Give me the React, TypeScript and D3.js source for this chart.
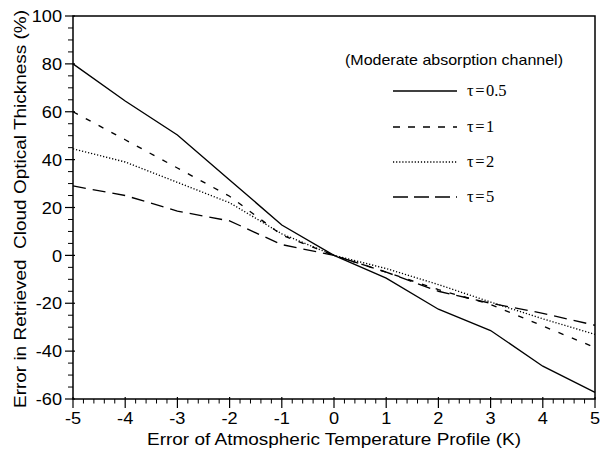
import React from "react";
import * as d3 from "d3";

const xValues = [-5, -4, -3, -2, -1, 0, 1, 2, 3, 4, 5];
const tau05 = [80, 64.5, 50.3, 31.5, 12.7, 0, -9.5, -22.5, -31.4, -46.3, -57.2];
const tau1 = [60, 48.3, 36.5, 24.7, 8.5, 0, -7, -14.3, -20.5, -29.5, -38.5];
const tau2 = [44.5, 39, 30.5, 22, 9, 0, -5.5, -12.2, -19.5, -26.5, -33];
const tau5 = [29, 25, 18.5, 14.4, 4.5, 0, -7, -15, -20, -24.2, -29.2];

const seriesTau = ["0.5", "1", "2", "5"];
const seriesData = [tau05, tau1, tau2, tau5];
const dashes = ["none", "5.5,9", "1.2,1.9", "13,7"];

const xTicks = [-5, -4, -3, -2, -1, 0, 1, 2, 3, 4, 5];
const yTicks = [-60, -40, -20, 0, 20, 40, 60, 80, 100];

const legendTitle = "(Moderate absorption channel)";
const xLabel = "Error of Atmospheric Temperature Profile (K)";
const yLabel = "Error in Retrieved  Cloud Optical Thickness (%)";

export default function App() {
  const W = 600, H = 451;
  const L = 73, R = 595, T = 16, B = 399;
  const x = d3.scaleLinear().domain([-5, 5]).range([L, R]);
  const y = d3.scaleLinear().domain([-60, 100]).range([B, T]);
  const line = d3.line<number>().x((_, i) => x(xValues[i])).y((d) => y(d));

  const xMinor = d3.range(-50, 51, 2).map((v) => v / 10).filter((v) => Math.abs(v - Math.round(v)) > 1e-6);
  const yMinor = d3.range(-60, 101, 5).filter((v) => v % 20 !== 0);

  const sans = "'Liberation Sans', Arial, Helvetica, sans-serif";
  const serif = "'Liberation Serif', 'Times New Roman', serif";

  const legendRows = [91, 127, 162, 197];
  const legendDashes = ["none", "7,8", "1.2,1.9", "15,6"];
  const sx = 1.07;

  return (
    <svg width={W} height={H} style={{ position: "absolute", left: 0, top: 0, background: "#fff" }}>
      <rect x={0} y={0} width={W} height={H} fill="#fff" />
      {seriesData.map((s, i) => (
        <path key={i} d={line(s) || ""} fill="none" stroke="#000" strokeWidth={1.35}
          strokeDasharray={dashes[i]} />
      ))}
      <rect x={L} y={T} width={R - L} height={B - T} fill="none" stroke="#000" strokeWidth={1.5} />
      {yTicks.map((v) => (
        <g key={"yt" + v}>
          <line x1={L - 8} x2={L + 2} y1={y(v)} y2={y(v)} stroke="#000" strokeWidth={1.2} />
          <text transform={`translate(62,${y(v)}) scale(${sx},1)`} dy="0.36em" textAnchor="end"
            fontFamily={sans} fontSize={17}>{v}</text>
        </g>
      ))}
      {yMinor.map((v) => (
        <line key={"ym" + v} x1={L - 5} x2={L} y1={y(v)} y2={y(v)} stroke="#000" strokeWidth={1} />
      ))}
      {xTicks.map((v) => (
        <g key={"xt" + v}>
          <line x1={x(v)} x2={x(v)} y1={B - 2} y2={B + 9} stroke="#000" strokeWidth={1.2} />
          <text transform={`translate(${x(v)},424) scale(${sx},1)`} textAnchor="middle"
            fontFamily={sans} fontSize={17}>{v}</text>
        </g>
      ))}
      {xMinor.map((v) => (
        <line key={"xm" + v} x1={x(v)} x2={x(v)} y1={B} y2={B + 4.5} stroke="#000" strokeWidth={1} />
      ))}
      <text x={334} y={445} textAnchor="middle" fontFamily={sans} fontSize={17}
        textLength={374} lengthAdjust="spacingAndGlyphs">{xLabel}</text>
      <text transform={`translate(26,209) rotate(-90)`} textAnchor="middle" fontFamily={sans} fontSize={17}
        textLength={398} lengthAdjust="spacingAndGlyphs" style={{ whiteSpace: "pre" }}>{yLabel}</text>
      <text x={454} y={65} textAnchor="middle" fontFamily={sans} fontSize={15}
        textLength={218} lengthAdjust="spacingAndGlyphs">{legendTitle}</text>
      {seriesTau.map((n, i) => (
        <g key={"lg" + i}>
          <line x1={393} x2={457} y1={legendRows[i]} y2={legendRows[i]} stroke="#000" strokeWidth={1.3}
            strokeDasharray={legendDashes[i]} />
          <text x={467} y={legendRows[i] + 4.5} fontFamily={serif} fontSize={16.5}>
            <tspan>τ</tspan>
            <tspan dx={1.5}>=</tspan>
            <tspan dx={1.5}>{n}</tspan>
          </text>
        </g>
      ))}
    </svg>
  );
}
